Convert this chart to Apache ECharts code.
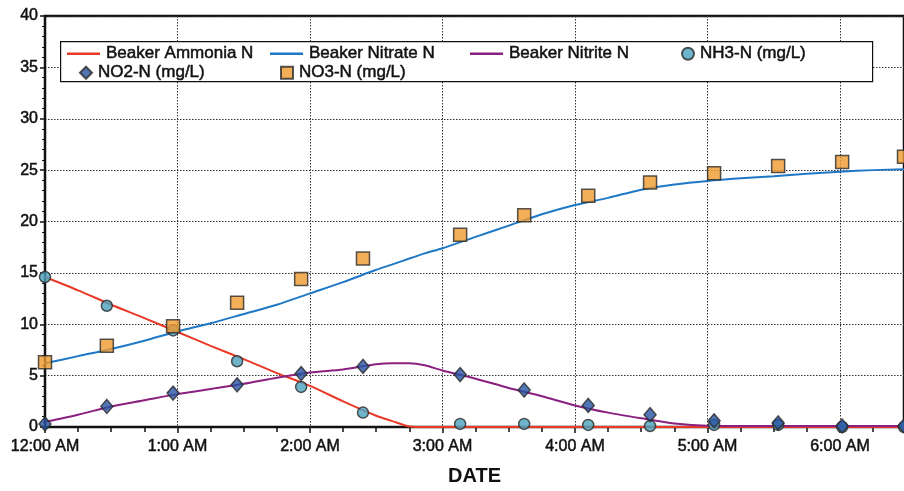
<!DOCTYPE html>
<html>
<head>
<meta charset="utf-8">
<script src="https://cdn.jsdelivr.net/npm/echarts@6/dist/echarts.min.js"></script>
<style>
  html, body { margin: 0; padding: 0; background: #fff; }
  #chart { width: 904px; height: 491px; }
</style>
</head>
<body>
<div id="chart"></div>
<script>
// Minutes after midnight for the fitted beaker curves
var curveMinutes = [0, 15, 30, 45, 60, 75, 90, 105, 120, 135, 150, 157, 165, 172, 180, 195, 210, 225, 240, 255, 270, 285, 300, 315, 330, 345, 360, 375, 390];
var beakerAmmonia = [14.6, 13.3, 11.9, 10.6, 9.25, 7.9, 6.6, 5.25, 4.0, 2.5, 1.1, 0.6, 0.05, 0, 0, 0, 0, 0, 0, 0, 0, 0, 0, 0, 0, 0, 0, 0, 0];
var beakerNitrate = [6.2, 6.9, 7.6, 8.4, 9.3, 10.1, 11.0, 11.9, 13.0, 14.1, 15.3, 15.8, 16.4, 16.9, 17.4, 18.5, 19.6, 20.7, 21.6, 22.3, 23.1, 23.6, 23.95, 24.2, 24.4, 24.65, 24.85, 25.0, 25.1];
var beakerNitrite = [0.5, 1.2, 2.0, 2.6, 3.2, 3.7, 4.2, 4.8, 5.3, 5.6, 6.1, 6.2, 6.2, 6.0, 5.5, 4.7, 3.8, 3.0, 2.1, 1.4, 0.85, 0.35, 0.12, 0.1, 0.1, 0.1, 0.1, 0.1, 0.1];

// Sample times (minutes) and measured concentrations, mg/L
var sampleMinutes = [0, 28, 58, 87, 116, 144, 188, 217, 246, 274, 303, 332, 361, 389];
var nh3N = [14.6, 11.8, 9.4, 6.4, 3.9, 1.4, 0.3, 0.3, 0.2, 0.1, 0.2, 0.2, 0.0, 0.0];
var no2N = [0.3, 2.0, 3.3, 4.1, 5.2, 5.9, 5.1, 3.6, 2.1, 1.2, 0.6, 0.4, 0.1, 0.1];
var no3N = [6.3, 7.9, 9.8, 12.1, 14.4, 16.4, 18.7, 20.6, 22.5, 23.8, 24.7, 25.4, 25.8, 26.3];

// Hour tick labels
var hourLabels = ['12:00 AM', '1:00 AM', '2:00 AM', '3:00 AM', '4:00 AM', '5:00 AM', '6:00 AM', '7:00 AM'];

function pairs(xs, ys) {
  return xs.map(function (x, i) { return [x, ys[i]]; });
}

var FONT = '"Liberation Sans", Arial, sans-serif';
var INK = '#111';
// thin outline in the text colour gives the heavier printed look of the labels
var heavy = { textBorderColor: INK, textBorderWidth: 0.5 };
var markBorder = { borderColor: '#2a2a2a', borderWidth: 1.5 };

var chart = echarts.init(document.getElementById('chart'));

function legendAt(name, left, top, w, h, icon) {
  var item = { name: name };
  if (icon) item.icon = icon;
  return {
    data: [item], left: left, top: top, itemWidth: w, itemHeight: h, itemGap: 0,
    padding: 0, z: 10, selectedMode: false,
    textStyle: Object.assign({ fontFamily: FONT, fontSize: 17, color: INK, padding: [0, 0, 0, 1] }, heavy)
  };
}

chart.setOption({
  animation: false,
  backgroundColor: '#fff',
  grid: {
    left: 45, top: 16, right: -3, bottom: 60,
    show: true, borderColor: INK, borderWidth: 2.5, backgroundColor: 'transparent'
  },
  graphic: [{
    type: 'rect', left: 60, top: 41, z: 5,
    shape: { width: 812, height: 40 },
    style: { fill: '#fff', stroke: INK, lineWidth: 1.2 }
  }],
  legend: [
    legendAt('Beaker Ammonia N', 67, 45, 33, 2.5, 'rect'),
    legendAt('Beaker Nitrate N', 270, 45, 33, 2.5, 'rect'),
    legendAt('Beaker Nitrite N', 470, 45, 33, 2.5, 'rect'),
    legendAt('NH3-N (mg/L)', 681, 45, 12, 12),
    legendAt('NO2-N (mg/L)', 79, 64, 12, 12),
    legendAt('NO3-N (mg/L)', 280, 64, 12, 12)
  ],
  xAxis: {
    type: 'value', min: 0, max: 389, interval: 60,
    name: 'DATE', nameLocation: 'middle', nameGap: 39,
    nameTextStyle: { fontFamily: FONT, fontSize: 20, fontWeight: 'bold', color: INK },
    axisLine: { show: true, lineStyle: { color: INK, width: 2 } },
    axisTick: { show: true, inside: false, length: 6, lineStyle: { color: INK, width: 1.5 } },
    minorTick: { show: true, splitNumber: 4, length: 5, lineStyle: { color: INK, width: 1.5 } },
    axisLabel: Object.assign({
      fontFamily: FONT, fontSize: 16, color: INK, margin: 12,
      showMaxLabel: false,
      formatter: function (v) { return hourLabels[Math.round(v / 60)]; }
    }, heavy),
    splitLine: { show: true, lineStyle: { color: '#333', type: [1.5, 1.5], width: 1 } }
  },
  yAxis: {
    type: 'value', min: 0, max: 40, interval: 5,
    axisLine: { show: true, lineStyle: { color: INK, width: 2 } },
    axisTick: { show: true, inside: false, length: 5, lineStyle: { color: INK, width: 1.5 } },
    minorTick: { show: true, splitNumber: 5, length: 3, lineStyle: { color: INK, width: 1 } },
    axisLabel: Object.assign({ fontFamily: FONT, fontSize: 16, color: INK, margin: 7 }, heavy),
    splitLine: { show: true, lineStyle: { color: '#333', type: [1.5, 1.5], width: 1 } }
  },
  series: [
    {
      name: 'Beaker Ammonia N', type: 'line', symbol: 'none', smooth: 0.25, z: 3,
      lineStyle: { color: '#e83a26', width: 2 }, itemStyle: { color: '#e83a26' },
      data: pairs(curveMinutes, beakerAmmonia)
    },
    {
      name: 'Beaker Nitrate N', type: 'line', symbol: 'none', smooth: 0.25, z: 3,
      lineStyle: { color: '#1f78c6', width: 2 }, itemStyle: { color: '#1f78c6' },
      data: pairs(curveMinutes, beakerNitrate)
    },
    {
      name: 'Beaker Nitrite N', type: 'line', symbol: 'none', smooth: 0.25, z: 3,
      lineStyle: { color: '#8a2080', width: 2 }, itemStyle: { color: '#8a2080' },
      data: pairs(curveMinutes, beakerNitrite)
    },
    {
      name: 'NH3-N (mg/L)', type: 'scatter', symbol: 'circle', symbolSize: 11, z: 4,
      itemStyle: Object.assign({ color: '#4aa3bf' }, markBorder),
      data: pairs(sampleMinutes, nh3N)
    },
    {
      name: 'NO2-N (mg/L)', type: 'scatter', symbol: 'diamond', symbolSize: [12, 14], z: 4,
      itemStyle: Object.assign({ color: '#2553a3' }, markBorder),
      data: pairs(sampleMinutes, no2N)
    },
    {
      name: 'NO3-N (mg/L)', type: 'scatter', symbol: 'rect', symbolSize: 13, z: 4,
      itemStyle: Object.assign({ color: '#f09a2e' }, markBorder),
      data: pairs(sampleMinutes, no3N)
    }
  ]
});
</script>
</body>
</html>
